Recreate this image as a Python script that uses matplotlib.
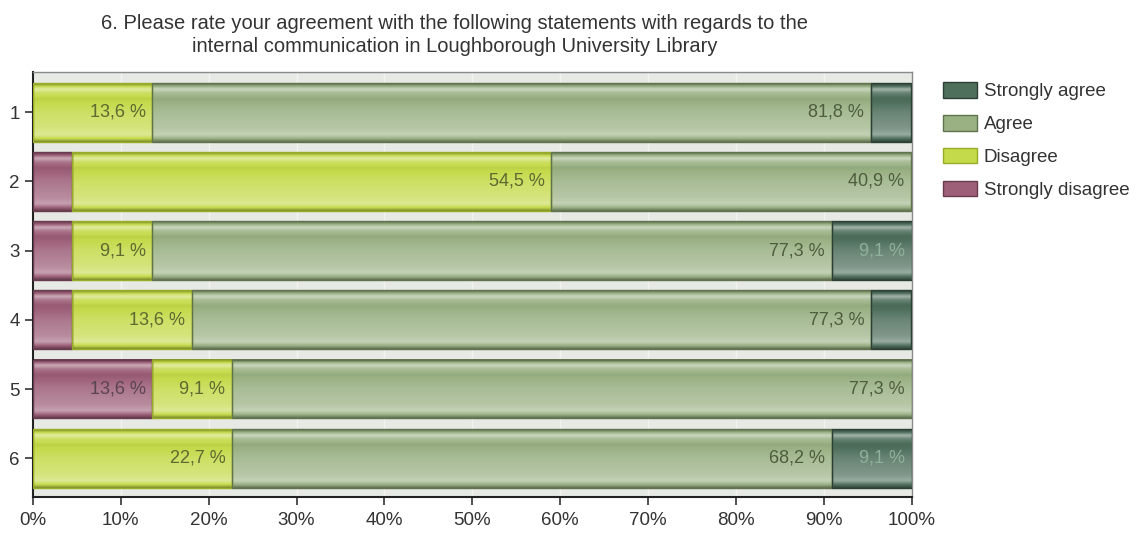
import matplotlib
import numpy as np

matplotlib.use("Agg")
import matplotlib.pyplot as plt  # noqa: E402
from matplotlib.colors import to_rgb  # noqa: E402
from matplotlib.patches import Patch, Rectangle  # noqa: E402

plt.rcParams["font.family"] = ["Liberation Sans", "DejaVu Sans"]

questions = ["1", "2", "3", "4", "5", "6"]
categories = ["Strongly disagree", "Disagree", "Agree", "Strongly agree"]
strongly_disagree = [0.0, 4.5, 4.5, 4.5, 13.6, 0.0]
disagree = [13.6, 54.5, 9.1, 13.6, 9.1, 22.7]
agree = [81.8, 40.9, 77.3, 77.3, 77.3, 68.2]
strongly_agree = [4.5, 0.0, 9.1, 4.5, 0.0, 9.1]
series = [strongly_disagree, disagree, agree, strongly_agree]

base_colors = ["#9d5f78", "#c5da4a", "#9ab184", "#4f6f5d"]
edge_colors = ["#6a3b50", "#98ad26", "#5f734d", "#2c3f33"]
text_colors = ["#5a4450", "#5d6a30", "#4d5d3e", "#8fb09b"]

# vertical shading profile of the glossy bars: >0 lighten, <0 darken
shade_t = [0.0, 0.04, 0.10, 0.16, 0.26, 0.50, 0.78, 0.88, 0.95, 1.0]
shade_l = [-0.35, -0.08, 0.50, 0.15, -0.05, 0.15, 0.28, 0.42, 0.0, -0.35]


def gradient_image(color, n=64):
    t = np.linspace(0, 1, n)
    light = np.interp(t, shade_t, shade_l)
    rgb = np.array(to_rgb(color))
    out = np.empty((n, 1, 3))
    for i, v in enumerate(light):
        if v >= 0:
            out[i, 0] = rgb + (1 - rgb) * v
        else:
            out[i, 0] = rgb * (1 + v)
    return out


fig = plt.figure(figsize=(11.48, 5.35), dpi=100)
ax = fig.add_axes([0.0287, 0.071, 0.7655, 0.7944])
ax.set_facecolor("#e6e9e4")

bar_h = 0.85
ypos = np.arange(1, len(questions) + 1)
for row, y in enumerate(ypos):
    left = 0.0
    for k, vals in enumerate(series):
        w = vals[row]
        if w <= 0:
            continue
        ax.imshow(gradient_image(base_colors[k]), extent=[left, left + w, y + bar_h / 2, y - bar_h / 2],
                  aspect="auto", interpolation="bicubic", zorder=2)
        ax.add_patch(Rectangle((left, y - bar_h / 2), w, bar_h, fill=False,
                               edgecolor=edge_colors[k], linewidth=1.0, zorder=3))
        if w >= 9:
            ax.annotate(f"{w:.1f} %".replace(".", ","), xy=(left + w, y), xytext=(-5, 0),
                        textcoords="offset points", ha="right", va="center",
                        fontsize=13, color=text_colors[k], zorder=4)
        left += w

ax.set_xlim(0, 100)
ax.set_ylim(6.56, 0.42)
ax.set_xticks(np.arange(0, 101, 10))
ax.set_xticklabels([f"{v}%" for v in range(0, 101, 10)])
ax.set_yticks(ypos)
ax.set_yticklabels(questions)
ax.tick_params(axis="both", labelsize=13.5, colors="#333333", length=6, width=1.2)
ax.tick_params(axis="x", pad=5)
ax.grid(axis="x", color="#f3f4f1", linewidth=1.0, zorder=0)
ax.set_axisbelow(True)
for side in ["top", "right"]:
    ax.spines[side].set_color("#8a8a8a")
    ax.spines[side].set_linewidth(1.0)
for side in ["left", "bottom"]:
    ax.spines[side].set_color("#222222")
    ax.spines[side].set_linewidth(1.5)

fig.text(0.396, 0.957, "6. Please rate your agreement with the following statements with regards to the",
         ha="center", va="center", fontsize=14.5, color="#333333")
fig.text(0.396, 0.913, "internal communication in Loughborough University Library",
         ha="center", va="center", fontsize=14.5, color="#333333")

handles = [Patch(facecolor=base_colors[k], edgecolor=edge_colors[k], label=categories[k])
           for k in range(len(categories) - 1, -1, -1)]
fig.legend(handles=handles, loc="upper left", bbox_to_anchor=(0.807, 0.878), frameon=False,
           fontsize=13.5, handlelength=1.8, handleheight=0.9, labelspacing=0.78, handletextpad=0.35,
           labelcolor="#333333")

fig.savefig("out.png", dpi=100)
